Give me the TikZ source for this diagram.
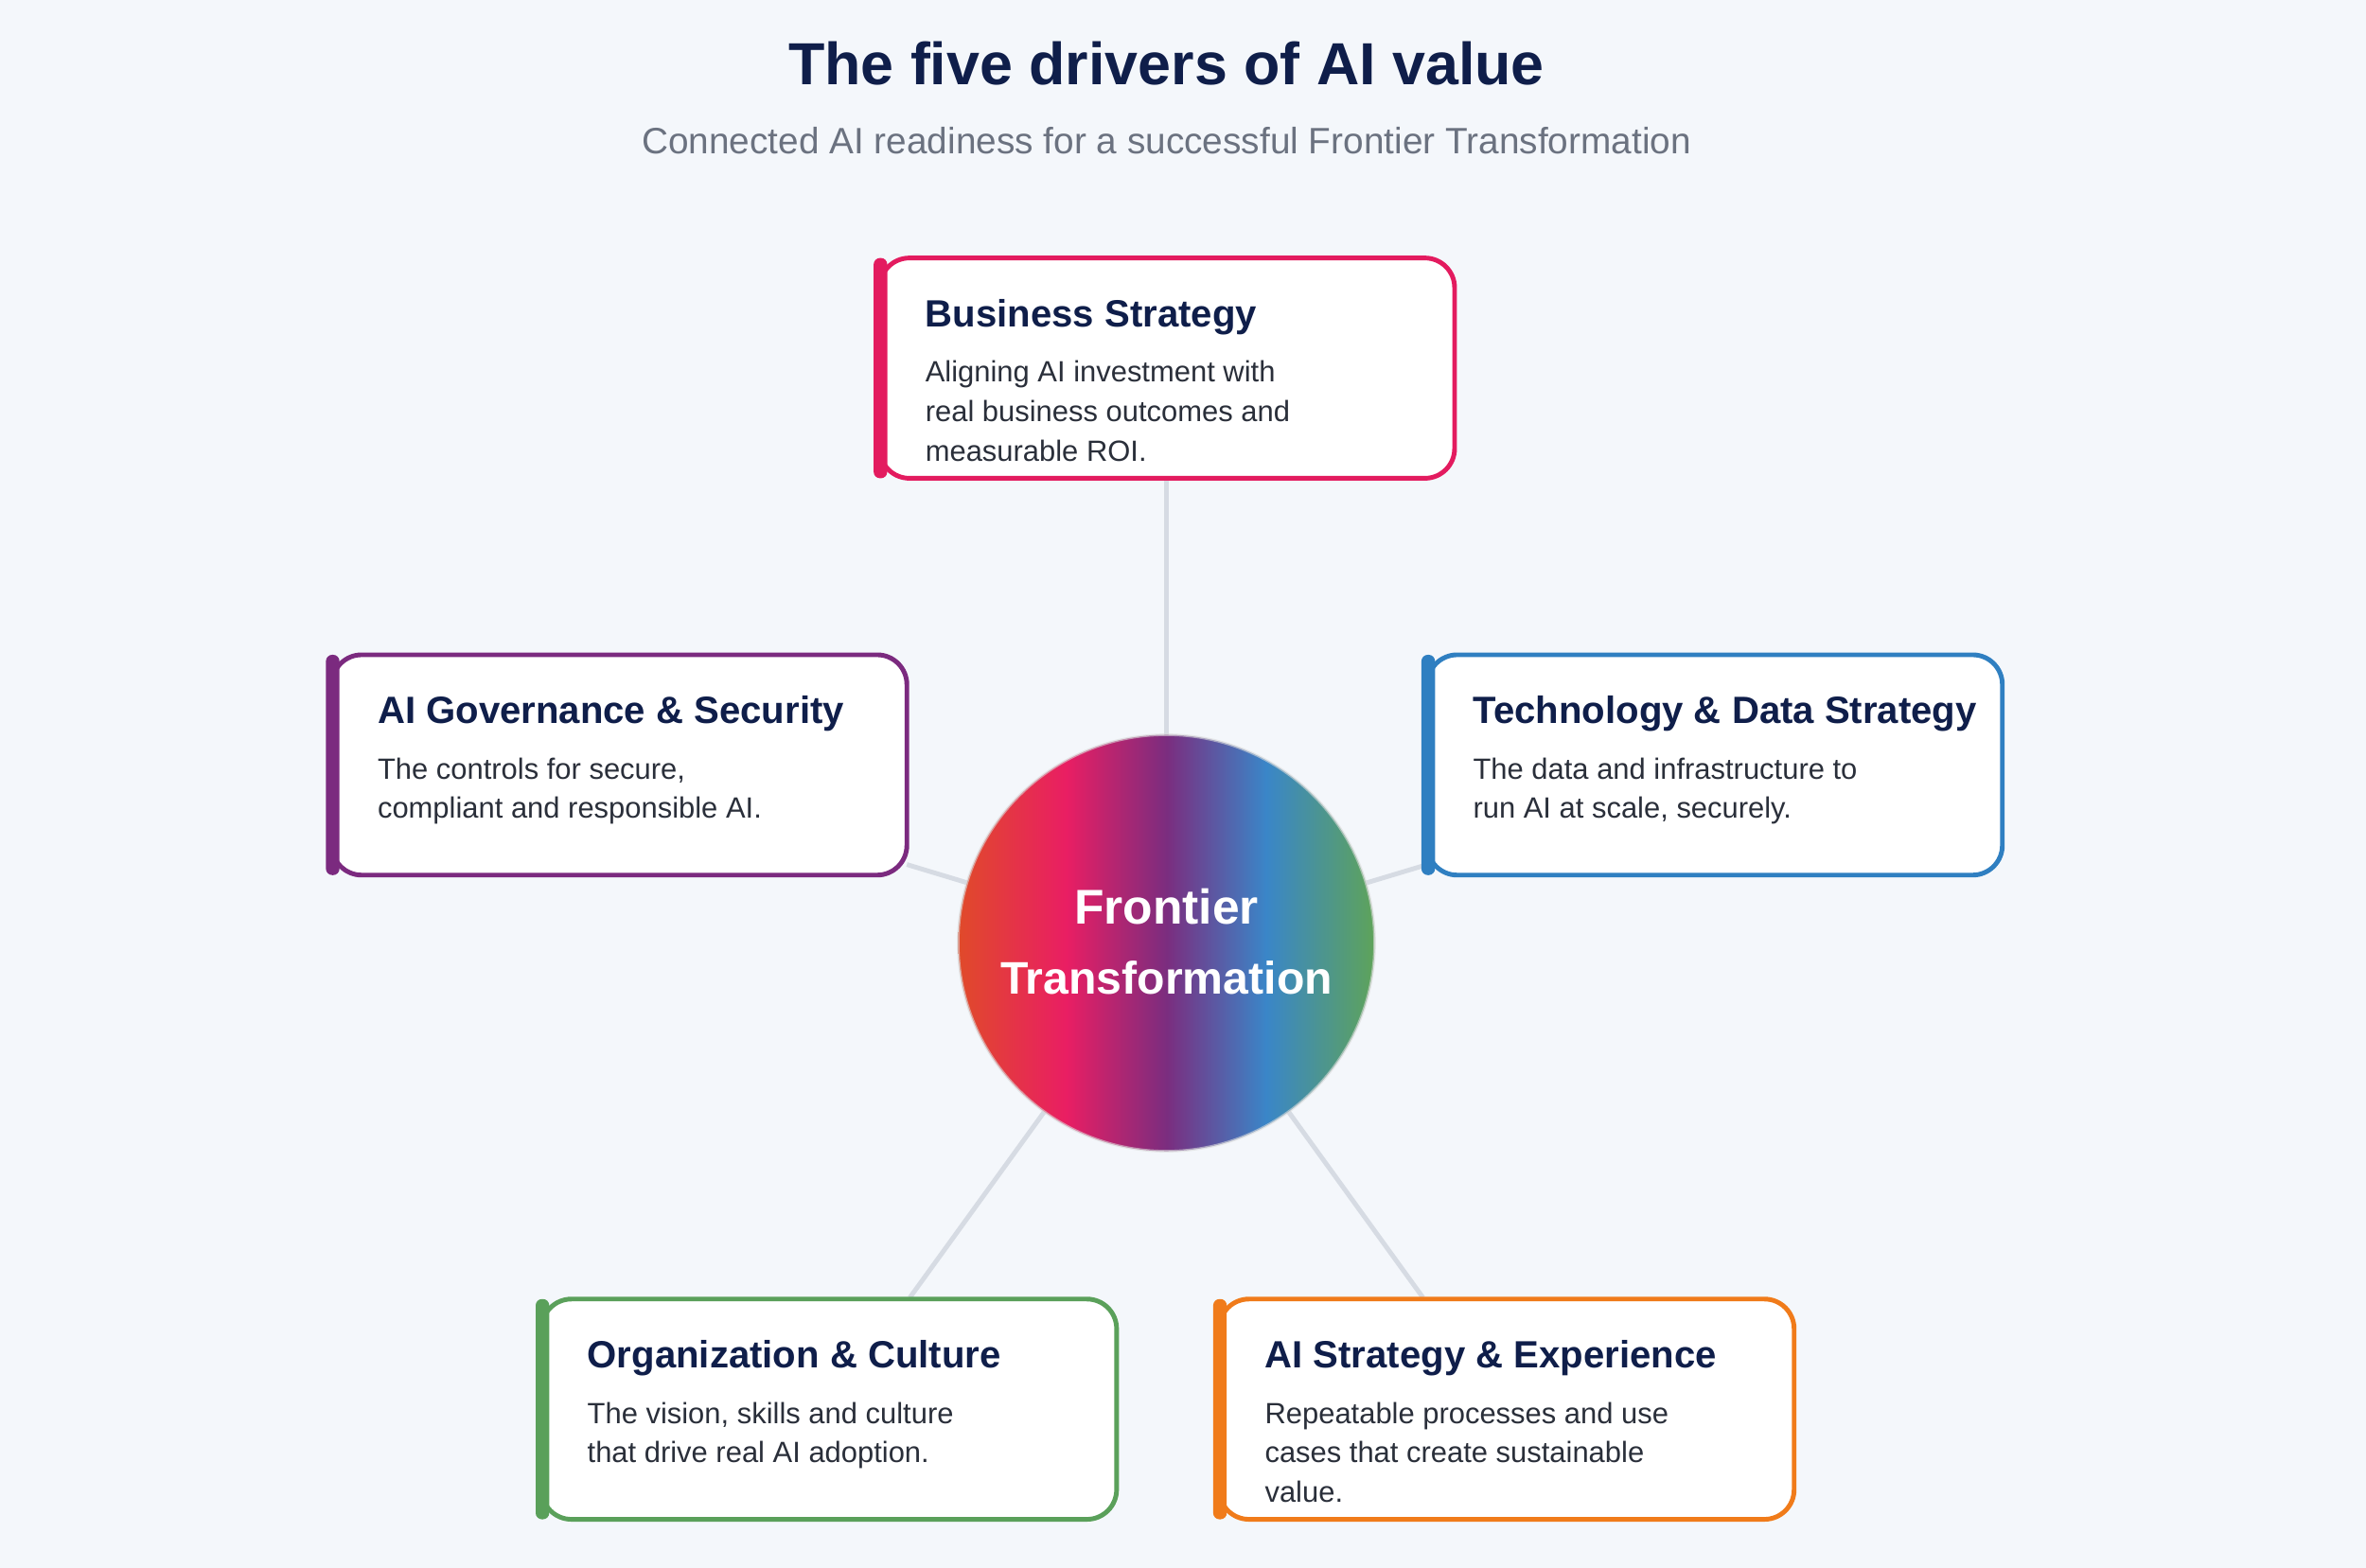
\documentclass[tikz,border=0pt]{standalone}
\usepackage{fontspec}
\setmainfont{Liberation Sans}
\definecolor{bg}{HTML}{F4F7FB}
\definecolor{navy}{HTML}{0F1E4A}
\definecolor{sub}{HTML}{6B7280}
\definecolor{body}{HTML}{2A2F3A}
\definecolor{conn}{HTML}{D6DBE3}
\definecolor{cpink}{HTML}{E31B5F}
\definecolor{cpurple}{HTML}{7B2A7F}
\definecolor{cblue}{HTML}{2F7FC1}
\definecolor{cgreen}{HTML}{5AA05A}
\definecolor{corange}{HTML}{F07B1A}
\definecolor{gA}{HTML}{E04A2A}
\definecolor{gB}{HTML}{E91E63}
\definecolor{gC}{HTML}{7B2D7F}
\definecolor{gD}{HTML}{3A86C8}
\definecolor{gE}{HTML}{5EA35A}
\pgfdeclarehorizontalshading{front}{100bp}{color(0bp)=(gA); color(25bp)=(gA); color(38bp)=(gB); color(50bp)=(gC); color(62bp)=(gD); color(75bp)=(gE); color(100bp)=(gE)}
\begin{document}
\begin{tikzpicture}[x=0.025cm,y=-0.025cm,
 box/.style={draw=#1,line width=2.2pt,fill=white,rounded corners=14pt},
 bar/.style={fill=#1,rounded corners=3pt},
 head/.style={anchor=west,text=navy,font=\fontsize{17.9}{21}\selectfont\bfseries,inner sep=0},
 txt/.style={anchor=north west,text=body,font=\fontsize{13.8}{18.6}\selectfont,align=left,inner sep=0},
 conn/.style={draw=conn,line width=2.2pt}]
\fill[bg] (0,0) rectangle (1568,1039);
\useasboundingbox (0,0) rectangle (1568,1039);
\node[text=navy,font=\fontsize{28}{32}\selectfont\bfseries] (title) at (773,42) {The five drivers of AI value};
\node[text=sub,font=\fontsize{17.3}{20}\selectfont] (subt) at (773,93) {Connected AI readiness for a successful Frontier Transformation};
\coordinate (c) at (773,625);
\coordinate (bsb) at (773,317);
\coordinate (gv) at (601,573);
\coordinate (td) at (946,573);
\coordinate (oc) at (603,860);
\coordinate (as) at (943,860);
\foreach \p in {bsb,gv,td,oc,as} \draw[conn] (\p) -- (c);
\shade[shading=front] (c) circle[radius=138];
\draw[white!70!gray,line width=1.2pt,opacity=0.6] (c) circle[radius=138];
\node[text=white,font=\fontsize{23}{26}\selectfont\bfseries] (f1) at (773,601) {Frontier};
\node[text=white,font=\fontsize{21.5}{26}\selectfont\bfseries] (f2) at (773,648) {Transformation};
\def\mybox#1#2#3#4#5#6{%
 \draw[box=#3] (#1,#2) rectangle ++(381,146);
 \fill[bar=#3] (#1-4,#2) rectangle ++(9,146);
 \node[head] (#6) at (#1+30,#2+39) {#4};
 \node[txt] at (#1+30,#2+68) {#5};}
\mybox{583}{171}{cpink}{Business Strategy}{Aligning AI investment with\\real business outcomes and\\measurable ROI.}{n1}
\mybox{220}{434}{cpurple}{AI Governance \& Security}{The controls for secure,\\compliant and responsible AI.}{n2}
\mybox{946}{434}{cblue}{Technology \& Data Strategy}{The data and infrastructure to\\run AI at scale, securely.}{n3}
\mybox{359}{861}{cgreen}{Organization \& Culture}{The vision, skills and culture\\that drive real AI adoption.}{n4}
\mybox{808}{861}{corange}{AI Strategy \& Experience}{Repeatable processes and use\\cases that create sustainable\\value.}{n5}
\end{tikzpicture}
\end{document}
